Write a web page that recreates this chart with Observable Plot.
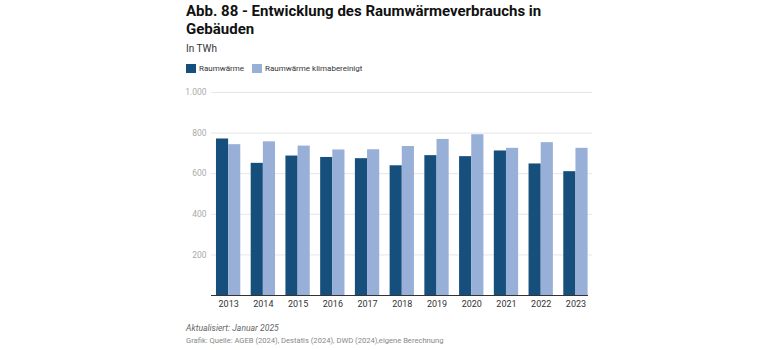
<!DOCTYPE html>
<html><head><meta charset="utf-8">
<script src="https://cdn.jsdelivr.net/npm/d3@7"></script>
<script src="https://cdn.jsdelivr.net/npm/@observablehq/plot@0.6"></script>
<style>
body{margin:0;background:#fff;font-family:Roboto,"Noto Sans",sans-serif;width:780px;height:350px;position:relative;overflow:hidden}
#title{position:absolute;left:186px;top:2px;width:370px;font-size:15px;font-weight:700;line-height:18px;color:#111}
#sub{position:absolute;left:186px;top:43px;font-size:10px;color:#333}
#legend{position:absolute;left:186px;top:64px;font-size:8px;color:#333;display:flex;align-items:center}
#legend span.sw{display:inline-block;width:10px;height:9px;margin-right:3px}
#legend span.it{display:flex;align-items:center;margin-right:8px}
#chart{position:absolute;left:186px;top:80px}
#upd{position:absolute;left:186px;top:323px;font-size:8.6px;font-style:italic;color:#666}
#src{position:absolute;left:186px;top:336px;font-size:7.6px;color:#888}
</style></head><body>
<div id="title">Abb. 88 - Entwicklung des Raumwärmeverbrauchs in Gebäuden</div>
<div id="sub">In TWh</div>
<div id="legend"></div>
<div id="chart"></div>
<div id="upd">Aktualisiert: Januar 2025</div>
<div id="src">Grafik: Quelle: AGEB (2024), Destatis (2024), DWD (2024),eigene Berechnung</div>
<script>
const years = ["2013","2014","2015","2016","2017","2018","2019","2020","2021","2022","2023"];
const raumwaerme = [771,651,687,680,674,639,689,684,712,648,610];
const klimabereinigt = [743,757,736,717,718,734,769,792,725,753,725];
const seriesNames = ["Raumwärme","Raumwärme klimabereinigt"];
const colors = ["#174f7c","#98afd7"];
const yTicks = [200,400,600,800,1000];

const leg = document.getElementById("legend");
seriesNames.forEach((n,i)=>{
  const s=document.createElement("span");s.className="it";
  s.innerHTML=`<span class="sw" style="background:${colors[i]}"></span>${n}`;
  leg.appendChild(s);
});

const fmt = d3.formatLocale({decimal:",",thousands:".",grouping:[3],currency:["","€"]}).format(",d");
const W = 409, mL = 25, mR = 3;
const pIn = 0.30, pOut = 0.135;
const step = (W-mL-mR)/(years.length - pIn + 2*pOut);
const half = step*(1-pIn)/2;

const d1 = years.map((y,i)=>({year:y,value:raumwaerme[i]}));
const d2 = years.map((y,i)=>({year:y,value:klimabereinigt[i]}));

const plot = Plot.plot({
  width: W, height: 235,
  marginLeft: mL, marginRight: mR, marginTop: 12, marginBottom: 20,
  style:{fontFamily:"Roboto, sans-serif", background:"#fff", overflow:"visible"},
  x:{domain:years, paddingInner:pIn, paddingOuter:pOut, align:0.53, round:false, label:null},
  y:{domain:[0,1000], label:null},
  marks:[
    Plot.gridY(yTicks,{stroke:"#e6e6e6", strokeOpacity:1}),
    Plot.axisY(yTicks,{tickSize:0, tickPadding:5, tickFormat:fmt, fill:"#aaa", fontSize:8.5, label:null}),
    Plot.axisX({tickSize:0, tickPadding:5, fill:"#333", fontSize:9, label:null}),
    Plot.barY(d1,{x:"year", y:"value", fill:colors[0], insetRight:half}),
    Plot.barY(d2,{x:"year", y:"value", fill:colors[1], insetLeft:half}),
    Plot.ruleY([0],{stroke:"#333", strokeWidth:1, insetRight:4})
  ]
});
document.getElementById("chart").appendChild(plot);
</script>
</body></html>
